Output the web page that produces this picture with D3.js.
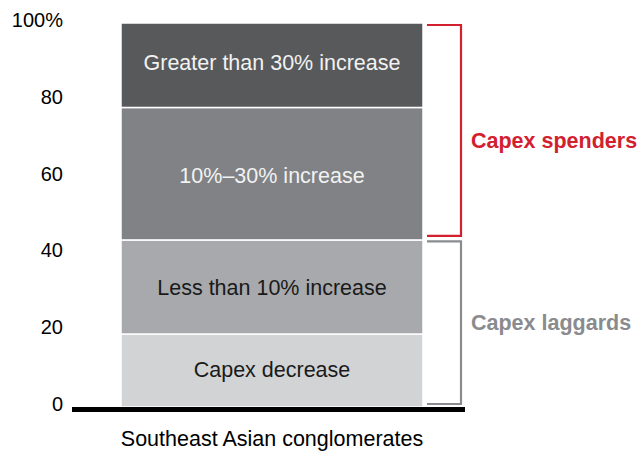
<!DOCTYPE html>
<html>
<head>
<meta charset="utf-8">
<script src="https://cdn.jsdelivr.net/npm/d3@7"></script>
<style>
  body { margin: 0; background: #fff; }
  text { font-family: "Liberation Sans", Arial, sans-serif; }
</style>
</head>
<body>
<svg id="chart" width="637" height="451"></svg>
<script>
// Data
const categories = ["Southeast Asian conglomerates"];
const segmentNames = ["Capex decrease", "Less than 10% increase", "10%–30% increase", "Greater than 30% increase"];
const segmentValues = [19, 24.5, 34.5, 22];
const segmentColors = ["#d1d3d4", "#a7a9ac", "#808285", "#58595b"];
const segmentTextColors = ["#1a1a1a", "#1a1a1a", "#f2f2f2", "#f2f2f2"];
const yTicks = [0, 20, 40, 60, 80, 100];
const groups = [
  { name: "Capex spenders", from: 43.5, to: 100, color: "#d2202f" },
  { name: "Capex laggards", from: 0, to: 43.5, color: "#898b8e" }
];

const svg = d3.select("#chart");
const y = d3.scaleLinear().domain([0, 100]).range([407, 23]);
const x = d3.scaleBand().domain(categories).range([121, 423]).padding(0);

// stacked data
let acc = 0;
const stacked = segmentValues.map((v, i) => {
  const d = { name: segmentNames[i], y0: acc, y1: acc + v, color: segmentColors[i], tc: segmentTextColors[i] };
  acc += v;
  return d;
});

const cat = categories[0];
svg.append("g").selectAll("rect").data(stacked).join("rect")
  .attr("x", x(cat))
  .attr("width", x.bandwidth())
  .attr("y", d => y(d.y1))
  .attr("height", d => y(d.y0) - y(d.y1))
  .attr("fill", d => d.color)
  .attr("stroke", "#fff")
  .attr("stroke-width", 1.5);

const labelOffsets = [-1, 0, 2, -3];
svg.append("g").selectAll("text").data(stacked).join("text")
  .attr("x", x(cat) + x.bandwidth() / 2)
  .attr("y", (d, i) => y((d.y0 + d.y1) / 2) + labelOffsets[i])
  .attr("dy", "0.35em")
  .attr("text-anchor", "middle")
  .attr("font-size", 21.5)
  .attr("fill", d => d.tc)
  .text(d => d.name);

// Y axis
const yAxis = d3.axisLeft(y).tickValues(yTicks).tickSize(0).tickPadding(9)
  .tickFormat(d => d === 100 ? "100%" : d);
const ga = svg.append("g").attr("transform", "translate(72,-3)").call(yAxis);
ga.select(".domain").remove();
ga.selectAll("text").attr("font-size", 20).attr("fill", "#000")
  .attr("font-family", "Liberation Sans, Arial, sans-serif");

// Baseline
svg.append("line")
  .attr("x1", 72).attr("x2", 465)
  .attr("y1", y(0) + 2.5).attr("y2", y(0) + 2.5)
  .attr("stroke", "#000").attr("stroke-width", 5);

// Category label
svg.append("text")
  .attr("x", x(cat) + x.bandwidth() / 2)
  .attr("y", 438)
  .attr("dy", "0.35em")
  .attr("text-anchor", "middle")
  .attr("font-size", 21.5)
  .attr("fill", "#000")
  .text(cat);

// Brackets
const bx0 = 427, bx1 = 461;
const groupLabelOffsets = [8.5, -1.5];
groups.forEach((g, i) => {
  const top = y(g.to) + (i === 0 ? 2 : 1.5);
  const bot = y(g.from) - (i === 0 ? 4 : 3);
  svg.append("path")
    .attr("d", `M${bx0},${top} H${bx1} V${bot} H${bx0}`)
    .attr("fill", "none")
    .attr("stroke", g.color)
    .attr("stroke-width", 2.2);
  svg.append("text")
    .attr("x", 471)
    .attr("y", y((g.from + g.to) / 2) + groupLabelOffsets[i])
    .attr("dy", "0.35em")
    .attr("font-size", 21.5)
    .attr("font-weight", "bold")
    .attr("fill", g.color)
    .text(g.name);
});
</script>
</body>
</html>
